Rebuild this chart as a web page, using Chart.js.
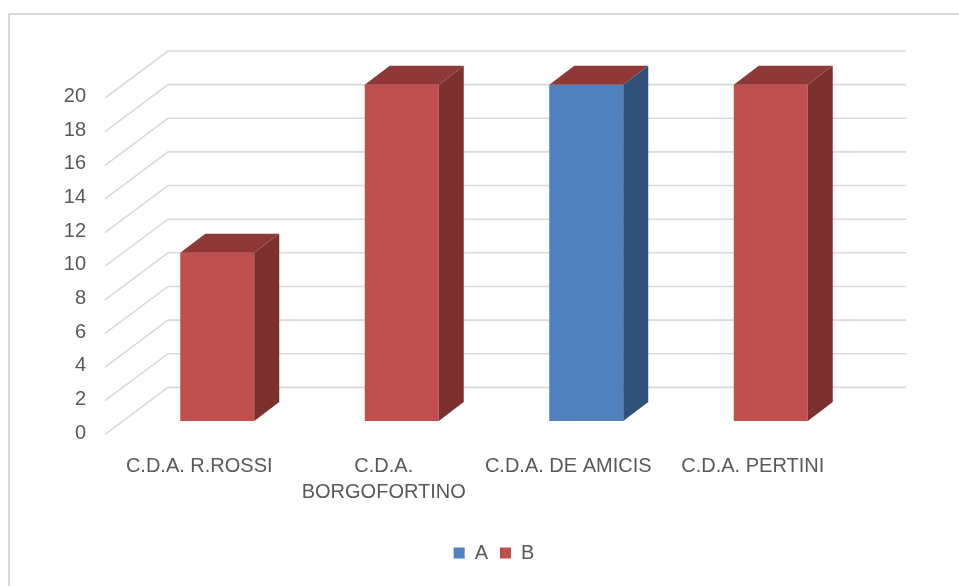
<!DOCTYPE html>
<html><head><meta charset="utf-8">
<script src="https://cdn.jsdelivr.net/npm/chart.js@4/dist/chart.umd.min.js"></script>
<style>
html,body{margin:0;padding:0;overflow:hidden;background:#fff;width:959px;height:586px}
#frame{position:absolute;left:8px;top:13px;width:1000px;height:1000px;border-left:2px solid #d9d9d9;border-top:2px solid #d9d9d9}
#wrap{position:absolute;left:0;top:0;width:959px;height:586px}
</style></head><body>
<div id="frame"></div>
<div id="wrap"><canvas id="c"></canvas></div>
<script>
const categories = ['C.D.A. R.ROSSI', ['C.D.A.', 'BORGOFORTINO'], 'C.D.A. DE AMICIS', 'C.D.A. PERTINI'];
const seriesNames = ['A', 'B'];
const seriesA = [0, 0, 20, 0];
const seriesB = [10, 20, 0, 20];
const yTickLabels = [0, 2, 4, 6, 8, 10, 12, 14, 16, 18, 20];
const yMax = 22;
const yStep = 2;

const DX = 25, DY = -19;
const threeD = {
  id: 'threeD',
  beforeDatasetsDraw(chart) {
    const {ctx, chartArea: a, scales: {y}} = chart;
    ctx.save();
    ctx.strokeStyle = '#d9d9d9';
    ctx.lineWidth = 1.6;
    for (let v = yStep; v <= yMax; v += yStep) {
      const py = y.getPixelForValue(v);
      ctx.beginPath();
      ctx.moveTo(a.left - 20, py + 47);
      ctx.lineTo(a.left + 43, py);
      ctx.lineTo(a.right + 43, py);
      ctx.stroke();
    }
    ctx.restore();
  },
  afterDatasetsDraw(chart) {
    const ctx = chart.ctx;
    const n = chart.data.datasets.length;
    ctx.save();
    chart.data.datasets.forEach((ds, di) => {
      const meta = chart.getDatasetMeta(di);
      meta.data.forEach((bar) => {
        const {x, y, base, width} = bar.getProps(['x', 'y', 'base', 'width'], true);
        const l = x - width / 2, r = x + width / 2;
        if (base - y > 0.5) {
          ctx.fillStyle = ds.sideColor;
          ctx.beginPath();
          ctx.moveTo(r, y); ctx.lineTo(r + DX, y + DY); ctx.lineTo(r + DX, base + DY); ctx.lineTo(r, base);
          ctx.closePath(); ctx.fill();
        }
        if (di === n - 1) {
          ctx.fillStyle = ds.topColor;
          ctx.beginPath();
          ctx.moveTo(l, y); ctx.lineTo(l + DX, y + DY); ctx.lineTo(r + DX, y + DY); ctx.lineTo(r, y);
          ctx.closePath(); ctx.fill();
        }
      });
    });
    ctx.restore();
  }
};

const FONT = {family: '"Liberation Sans", Arial, sans-serif', size: 20};
new Chart(document.getElementById('c'), {
  type: 'bar',
  data: {
    labels: categories,
    datasets: [
      {label: seriesNames[0], data: seriesA, backgroundColor: '#4f81bd', sideColor: '#30527a', topColor: '#3a6191', borderWidth: 0},
      {label: seriesNames[1], data: seriesB, backgroundColor: '#c0504d', sideColor: '#7b302e', topColor: '#8e3937', borderWidth: 0}
    ]
  },
  options: {
    responsive: true,
    maintainAspectRatio: false,
    animation: false,
    layout: {padding: {left: 0, right: 96, top: 50, bottom: 13}},
    datasets: {bar: {categoryPercentage: 1, barPercentage: 0.401}},
    plugins: {
      tooltip: {enabled: false},
      legend: {
        position: 'bottom',
        fullSize: false,
        labels: {font: FONT, color: '#595959', boxWidth: 11, boxHeight: 11, padding: 12}
      }
    },
    scales: {
      x: {
        stacked: true,
        grid: {display: false, drawTicks: false},
        border: {display: false},
        ticks: {font: {family: FONT.family, size: 20, lineHeight: 1.3}, color: '#595959', padding: 32, labelOffset: -18, maxRotation: 0, autoSkip: false},
        afterFit(s) { s.height = 110; }
      },
      y: {
        stacked: true,
        min: 0, max: yMax,
        grid: {display: false, drawTicks: false},
        border: {display: false},
        ticks: {
          stepSize: yStep, font: FONT, color: '#595959', padding: 39, labelOffset: 12,
          callback: (v) => yTickLabels.includes(v) ? String(v) : ''
        },
        afterFit(s) { s.width = 125; }
      }
    }
  },
  plugins: [threeD]
});
</script>
</body></html>
